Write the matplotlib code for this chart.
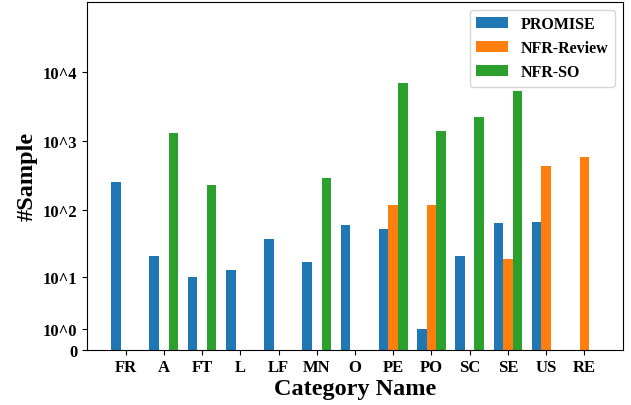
import numpy as np
import matplotlib
matplotlib.use("Agg")
import matplotlib.pyplot as plt

plt.rcParams['font.family'] = ['Liberation Serif', 'DejaVu Serif']
plt.rcParams['font.weight'] = 'bold'

categories = ['FR', 'A', 'FT', 'L', 'LF', 'MN', 'O', 'PE', 'PO', 'SC', 'SE', 'US', 'RE']
promise = [255, 21, 10, 13, 38, 17, 61, 53, 1, 21, 65, 67, 0]
nfr_review = [0, 0, 0, 0, 0, 0, 0, 119, 119, 0, 19, 435, 590]
nfr_so = [0, 1300, 232, 0, 0, 292, 0, 6770, 1390, 2200, 5200, 0, 0]

ytick_vals = [0, 1, 10, 100, 1000, 10000]
ytick_labels = ['0', '10^0', '10^1', '10^2', '10^3', '10^4']


def fwd(v):
    return np.log10(np.clip(v, 0, None) + 1)


def inv(v):
    return 10 ** v - 1


fig = plt.figure(figsize=(6.31, 4.06), dpi=100)
ax = fig.add_axes([0.1384, 0.1362, 0.8484, 0.8564])
ax.set_yscale('function', functions=(fwd, inv))

x = np.arange(len(categories))
w = 0.25
ax.bar(x - w, promise, w, color='#1f77b4', label='PROMISE')
ax.bar(x, nfr_review, w, color='#ff7f0e', label='NFR-Review')
ax.bar(x + w, nfr_so, w, color='#2ca02c', label='NFR-SO')

ax.set_xlim(-1, 13)
ax.set_ylim(0, inv(5))
ax.set_xticks(x)
ax.set_xticklabels(categories, fontsize=12, fontweight='bold')
ax.set_yticks(ytick_vals)
ax.set_yticklabels(ytick_labels, fontsize=12, fontweight='bold')
ax.minorticks_off()
ax.set_xlabel('Category Name', fontsize=17.5, fontweight='bold', labelpad=2)
ax.set_ylabel('#Sample', fontsize=17.5, fontweight='bold')
ax.legend(loc='upper right', prop={'size': 11.5, 'weight': 'bold'})

fig.savefig('out.png', dpi=100)
